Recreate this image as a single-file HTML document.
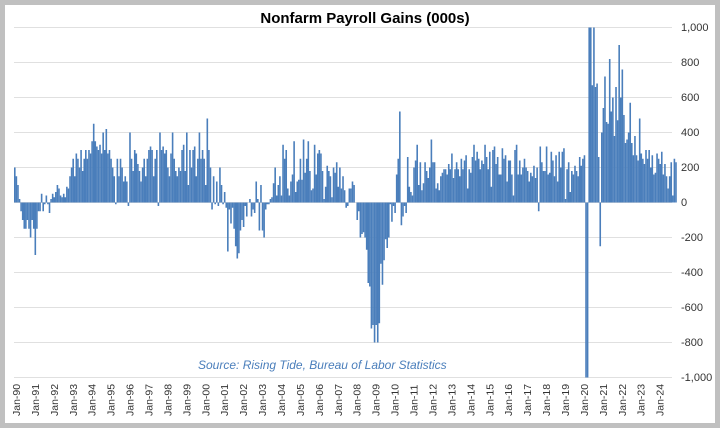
<!DOCTYPE html>
<html><head><meta charset="utf-8"><style>
html,body{margin:0;padding:0;background:#c0c0c0;}
#w{position:absolute;left:5px;top:5px;width:710px;height:418px;background:#fff;}
svg{position:absolute;left:0;top:0}
text{font-family:"Liberation Sans",sans-serif;}
</style></head><body>
<div id="w"></div>
<svg id="s" width="720" height="428" xmlns="http://www.w3.org/2000/svg">
<g stroke="#e0e0e0" stroke-width="1">
<line x1="14" x2="672" y1="27.5" y2="27.5"/><line x1="14" x2="672" y1="62.5" y2="62.5"/>
<line x1="14" x2="672" y1="97.5" y2="97.5"/><line x1="14" x2="672" y1="132.5" y2="132.5"/>
<line x1="14" x2="672" y1="167.5" y2="167.5"/><line x1="14" x2="672" y1="202.5" y2="202.5"/>
<line x1="14" x2="672" y1="237.5" y2="237.5"/><line x1="14" x2="672" y1="272.5" y2="272.5"/>
<line x1="14" x2="672" y1="307.5" y2="307.5"/><line x1="14" x2="672" y1="342.5" y2="342.5"/>
<line x1="14" x2="672" y1="377.5" y2="377.5"/>
</g>
<g id="bars" fill="#4a7ebb"></g>
<text x="365" y="23" font-size="15" font-weight="bold" text-anchor="middle" fill="#000">Nonfarm Payroll Gains (000s)</text>
<g font-size="11" fill="#333">
<text x="681" y="31">1,000</text><text x="681" y="66">800</text><text x="681" y="101">600</text>
<text x="681" y="136">400</text><text x="681" y="171">200</text><text x="681" y="206">0</text>
<text x="681" y="241">-200</text><text x="681" y="276">-400</text><text x="681" y="311">-600</text>
<text x="681" y="346">-800</text><text x="681" y="381">-1,000</text>
</g>
<text x="198" y="369" font-size="12" font-style="italic" fill="#4a7ebb">Source: Rising Tide, Bureau of Labor Statistics</text>
<g id="xl" font-size="10.5" fill="#333"></g>
</svg>
<script>
(function(){
var ns='http://www.w3.org/2000/svg';
var yrs=['90','91','92','93','94','95','96','97','98','99','00','01','02','03','04','05','06','07','08','09','10','11','12','13','14','15','16','17','18','19','20','21','22','23','24'];
var xl=document.getElementById('xl');
for(var i=0;i<yrs.length;i++){var x=16+i*18.93+4;var t=document.createElementNS(ns,'text');t.setAttribute('transform','translate('+x+',416) rotate(-90)');t.textContent='Jan-'+yrs[i];xl.appendChild(t);}
var ann=[[200,150,100,20,-50,-100,-150,-150,-100,-150,-200,-100],[-150,-300,-150,-50,-50,50,-50,-10,40,-10,-60,20],
[50,30,60,100,80,40,30,50,30,90,80,150],[200,250,150,280,250,200,300,180,250,300,250,300],
[280,350,450,350,320,300,330,280,400,300,420,280],[300,250,200,150,-10,250,150,250,200,120,150,120],
[-20,400,250,180,300,280,220,180,120,200,250,150],[250,300,320,300,150,250,300,-20,400,300,320,280],
[300,200,150,280,400,250,180,150,200,180,300,330],[180,400,100,300,200,300,320,150,250,400,250,300],
[250,100,480,300,200,-40,150,-10,120,-20,200,100],[-10,60,-30,-280,-40,-120,-30,-150,-250,-320,-290,-160],
[-100,-140,-20,-80,0,20,-80,-40,-60,120,20,-160],[100,-160,-200,-40,-10,-10,20,30,110,200,40,100],
[150,40,330,250,300,80,40,120,160,350,60,120],[130,250,130,360,170,250,350,180,70,80,330,160],
[280,300,280,180,20,90,210,180,150,30,200,170],[230,90,200,80,150,70,-30,-20,80,80,120,100],
[0,-100,-50,-200,-180,-170,-200,-270,-460,-480,-720,-700],[-800,-700,-800,-690,-350,-470,-330,-210,-260,-200,-10,-110],
[-20,-60,160,250,520,-130,-80,-20,-60,260,90,60],[40,200,240,330,100,230,70,110,230,180,140,200],
[360,230,230,80,110,70,150,170,190,190,160,220],[190,280,140,190,230,190,150,250,190,240,270,80],
[190,170,260,330,240,290,250,190,240,220,330,260],[190,290,90,300,320,220,260,160,160,310,250,270],
[120,240,240,160,40,300,330,160,240,160,200,250],[200,180,120,170,150,210,140,200,-50,320,230,180],
[180,320,160,170,290,240,150,270,120,290,200,290],[310,20,190,230,60,180,160,210,180,150,260,210],
[250,270,-1200,-1200,1200,1200,670,1200,660,680,260,-250],[400,540,720,460,450,820,520,600,380,660,470,900],
[600,760,500,340,360,400,570,340,270,380,270,240],[480,280,250,220,300,250,300,200,270,160,170,280],
[250,220,290,160,220,150,80,150,230,40,250,230]];
var g=document.getElementById('bars');
for(var y=0;y<ann.length;y++){for(var m=0;m<12;m++){var v=ann[y][m];
if(v>1000)v=1000;if(v<-1000)v=-1000;var bx=14+(y*12+m)*1.578;var by=v>=0?202.5-v*0.175:202.5;var hh=Math.abs(v)*0.175;
var r=document.createElementNS(ns,'rect');r.setAttribute('x',bx.toFixed(2));r.setAttribute('y',by.toFixed(2));r.setAttribute('width','1.6');r.setAttribute('height',hh.toFixed(2));g.appendChild(r);}}
})();
</script>
</body></html>
